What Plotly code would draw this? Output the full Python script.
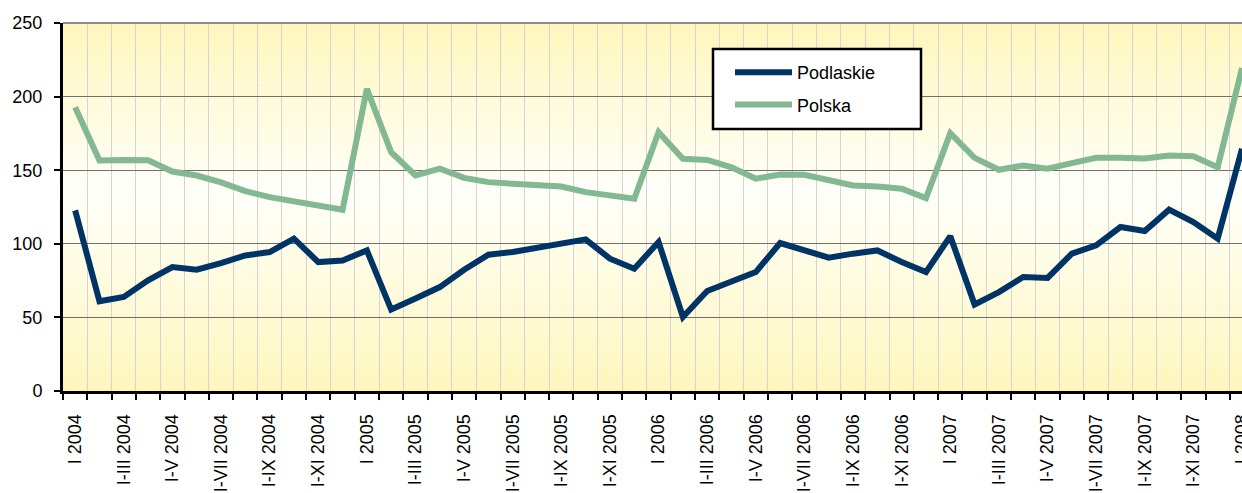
import plotly.graph_objects as go

# ---- data ----
roman = ["I", "II", "III", "IV", "V", "VI", "VII", "VIII", "IX", "X", "XI", "XII"]
years = [2004, 2005, 2006, 2007]
categories = []
for yr in years:
    for m in range(12):
        categories.append(("I" if m == 0 else "I-" + roman[m]) + " " + str(yr))
categories.append("I 2008")

podlaskie = [122.7, 61.0, 63.9, 75.2, 84.2, 82.4, 86.9, 92.1, 94.4, 103.5, 87.6, 88.7,
             95.5, 55.3, 62.8, 70.6, 82.4, 92.6, 94.4, 97.0, 100.0, 103.0, 89.9, 83.1,
             101.2, 50.3, 67.9, 74.0, 80.8, 100.5, 95.5, 90.6, 93.3, 95.5, 87.6, 80.8,
             105.2, 58.8, 67.2, 77.4, 76.8, 93.3, 98.9, 111.4, 108.7, 123.2, 114.8, 103.5,
             164.5]
polska = [192.7, 156.6, 157.0, 156.7, 149.1, 146.4, 141.7, 135.8, 131.7, 129.0, 126.0, 123.1,
          205.2, 162.2, 146.4, 151.0, 144.8, 141.9, 140.8, 139.4, 138.9, 135.1, 132.8, 130.6,
          175.8, 157.7, 157.0, 152.0, 144.2, 147.1, 146.9, 143.0, 139.6, 138.9, 137.4, 131.0,
          175.1, 158.4, 150.3, 153.2, 151.0, 154.8, 158.4, 158.4, 157.9, 160.0, 159.5, 152.0,
          219.5]
series_names = ["Podlaskie", "Polska"]
y_ticks = [0, 50, 100, 150, 200, 250]

# ---- styling ----
FONT = "Arial, 'Liberation Sans', Helvetica, sans-serif"
NAVY = "#003366"
GREEN = "#82B892"

xs = list(range(len(categories)))
tickvals = xs[::2]
ticktext = categories[::2]

fig = go.Figure()
fig.add_trace(go.Scatter(x=xs, y=podlaskie, name=series_names[0], mode="lines",
                         legendgroup="a", line=dict(color=NAVY, width=6)))
fig.add_trace(go.Scatter(x=xs, y=polska, name=series_names[1], mode="lines",
                         legendgroup="b", line=dict(color=GREEN, width=6)))

# gradient background (yellow top & bottom, white around the middle)
def mix(t):
    top = (255, 246, 186)
    white = (255, 255, 250)
    return "rgb(%d,%d,%d)" % tuple(round(w + (c - w) * t) for c, w in zip(top, white))

L, T, R, B = 63, 23, 1242, 391
PW = R - L
PH = B - T

def px(xp):
    return (xp - L) / PW

def py(yp):
    return (B - yp) / PH

shapes = []
N = 80
center = 135.0
for k in range(N):
    y0 = 250 * k / N
    y1 = 250 * (k + 1) / N
    ym = (y0 + y1) / 2
    if ym >= center:
        t = (ym - center) / (250 - center)
    else:
        t = (center - ym) / center
    shapes.append(dict(type="rect", xref="paper", yref="y", x0=0, x1=1, y0=y0, y1=y1,
                       fillcolor=mix(t), line=dict(width=0), layer="below"))
# top border of plot area
shapes.append(dict(type="line", xref="paper", yref="paper", x0=0, x1=1, y0=1, y1=1,
                   line=dict(color="#8C8C8C", width=2)))
# legend frame
shapes.append(dict(type="rect", xref="paper", yref="paper",
                   x0=px(713), x1=px(921), y0=py(129), y1=py(49),
                   fillcolor="white", line=dict(color="black", width=2.5), layer="above"))

fig.update_layout(
    width=1242, height=493,
    margin=dict(l=L, r=1242 - R, t=T, b=493 - B, autoexpand=False),
    paper_bgcolor="white",
    plot_bgcolor="rgba(0,0,0,0)",
    font=dict(family=FONT, size=18, color="black"),
    shapes=shapes,
    showlegend=True,
    legend=dict(x=px(716), y=py(54), xanchor="left", yanchor="top",
                bgcolor="rgba(0,0,0,0)", borderwidth=0,
                font=dict(family=FONT, size=18, color="black"),
                itemwidth=57, indentation=14, tracegroupgap=6),
)

fig.update_xaxes(
    range=[-0.5, 48.0], automargin=False,
    tickmode="array", tickvals=tickvals, ticktext=ticktext,
    tickangle=-90, ticks="", showgrid=False, zeroline=False,
    showline=True, linecolor="black", linewidth=3,
    ticklabelstandoff=13, ticklabeloverflow="allow",
    tickfont=dict(family=FONT, size=18, color="black"),
    minor=dict(tickmode="linear", tick0=-0.5, dtick=1, ticks="outside", ticklen=6,
               tickwidth=2, tickcolor="black", showgrid=True, gridcolor="#D4D4D4",
               gridwidth=1),
)
fig.update_yaxes(
    range=[0, 250], automargin=False, tickmode="array", tickvals=y_ticks,
    ticks="outside", ticklen=6, tickwidth=2, tickcolor="black",
    showgrid=True, gridcolor="#707070", gridwidth=1, zeroline=False,
    showline=True, linecolor="black", linewidth=3,
    ticklabelstandoff=8,
    tickfont=dict(family=FONT, size=18, color="black"),
)

fig.write_html("out.html", config={"displayModeBar": False},
               post_script="document.body.style.margin='0';document.body.style.overflow='hidden';")
